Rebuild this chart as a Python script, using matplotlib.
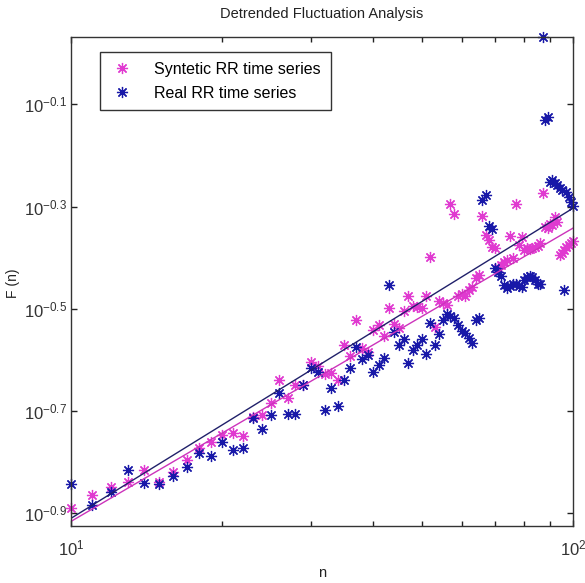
import numpy as np
import matplotlib
matplotlib.use("Agg")
import matplotlib.pyplot as plt
from matplotlib.ticker import FixedLocator, NullLocator, LogLocator, NullFormatter

plt.rcParams['font.family'] = ['Liberation Sans', 'DejaVu Sans']
plt.rcParams['mathtext.fontset'] = 'custom'
plt.rcParams['mathtext.rm'] = 'Liberation Sans'
plt.rcParams['mathtext.default'] = 'regular'

# window sizes
n = np.arange(10, 101)

# F(n), synthetic RR series
F_syn = [0.1288, 0.1368, 0.1416, 0.1449, 0.1531, 0.1449, 0.1517, 0.1600, 0.1691, 0.1734,
         0.1791, 0.1807, 0.1782, 0.1941, 0.1959, 0.2070, 0.2296, 0.2118, 0.2244, 0.2244,
         0.2489, 0.2443, 0.2355, 0.2366, 0.2296, 0.2685, 0.2559, 0.3006, 0.2649, 0.2600,
         0.2877, 0.2938, 0.2799, 0.3177, 0.2951, 0.2897, 0.3133, 0.3350, 0.3199, 0.3191,
         0.3177, 0.3350, 0.3990, 0.2911, 0.3273, 0.3243, 0.3213, 0.5070, 0.4842, 0.3350,
         0.3380, 0.3350, 0.3443, 0.3491, 0.3631, 0.3681, 0.4809, 0.4406, 0.4315, 0.4178,
         0.4159, 0.3802, 0.3855, 0.3908, 0.3936, 0.4385, 0.3972, 0.5070, 0.4217, 0.4365,
         0.4121, 0.4159, 0.4140, 0.4159, 0.4178, 0.4198, 0.4256, 0.5333, 0.4571, 0.4550,
         0.4634, 0.4613, 0.4786, 0.4677, 0.4027, 0.4064, 0.4121, 0.4178, 0.4217, 0.4256,
         0.4295]

# F(n), real RR series
F_real = [0.1436, 0.1306, 0.1387, 0.1531, 0.1442, 0.1436, 0.1489, 0.1553, 0.1652, 0.1629,
          0.1734, 0.1675, 0.1691, 0.1932, 0.1841, 0.1959, 0.2162, 0.1968, 0.1968, 0.2244,
          0.2421, 0.2377, 0.2004, 0.2213, 0.2042, 0.2296, 0.2421, 0.2661, 0.2523, 0.2570,
          0.2377, 0.2455, 0.2535, 0.3524, 0.2851, 0.2685, 0.2761, 0.2477, 0.2624, 0.2685,
          0.2761, 0.2582, 0.2965, 0.2685, 0.2825, 0.3006, 0.3090, 0.3062, 0.3034, 0.2938,
          0.2864, 0.2838, 0.2773, 0.2710, 0.3006, 0.3034, 0.5164, 0.5284, 0.4592, 0.4529,
          0.3802, 0.3733, 0.3664, 0.3524, 0.3475, 0.3508, 0.3532, 0.3540, 0.3508, 0.3491,
          0.3597, 0.3648, 0.3664, 0.3648, 0.3597, 0.3540, 0.3540, 1.0764, 0.7396, 0.7499,
          0.5598, 0.5649, 0.5572, 0.5521, 0.5445, 0.5395, 0.3443, 0.5346, 0.5236, 0.5117,
          0.5023]

# log-log fits (slope, intercept)
fit_syn = (0.574, -1.490)
fit_real = (0.607, -1.517)

ytick_exp = [-0.9, -0.7, -0.5, -0.3, -0.1]

pink = '#e03ad0'
blue = '#1818a8'

fig = plt.figure(figsize=(5.85, 5.83), dpi=100)
ax = fig.add_axes([71 / 585, 57 / 583, 502 / 585, 489 / 583])

star = (8, 2, 0)
h1, = ax.plot(n, F_syn, linestyle='none', marker=star, markersize=8,
              markeredgewidth=0.9, color=pink, clip_on=False)
h2, = ax.plot(n, F_real, linestyle='none', marker=star, markersize=8,
              markeredgewidth=0.9, color=blue, clip_on=False)

ln = np.log10(n)
ax.plot(n, 10 ** (fit_syn[1] + fit_syn[0] * ln), color='#cc33bb', lw=1.0)
ax.plot(n, 10 ** (fit_real[1] + fit_real[0] * ln), color='#20206a', lw=1.0)

ax.set_xscale('log')
ax.set_yscale('log')
ax.set_xlim(10, 100)
ax.set_ylim(10 ** -0.925, 10 ** 0.032)

ax.yaxis.set_major_locator(FixedLocator([10 ** e for e in ytick_exp]))
ax.yaxis.set_minor_locator(NullLocator())
ax.set_yticklabels([r'$10^{%g}$' % e for e in ytick_exp])
ax.xaxis.set_major_locator(FixedLocator([10, 100]))
ax.set_xticklabels([r'$10^{1}$', r'$10^{2}$'])
ax.xaxis.set_minor_locator(LogLocator(base=10, subs=np.arange(2, 10)))
ax.xaxis.set_minor_formatter(NullFormatter())

ax.tick_params(which='both', direction='in', top=True, right=True,
               width=1.0, colors='#222222', labelcolor='#333333', labelsize=12)
ax.tick_params(which='major', length=4)
ax.tick_params(which='minor', length=3.5)
ax.tick_params(axis='x', pad=9)
ax.tick_params(axis='y', pad=3)
for s in ax.spines.values():
    s.set_color('#333333')
    s.set_linewidth(1.0)

ax.set_title('Detrended Fluctuation Analysis', fontsize=10.5, pad=14, color='#222222')
fig.text(322 / 585, 1 - 573 / 583, 'n', fontsize=10.5, ha='center', va='center',
         color='#222222')
fig.text(13 / 585, 1 - 283 / 583, 'F (n)', fontsize=10, rotation=90, ha='center',
         va='center', color='#222222')

leg = ax.legend([h1, h2], ['Syntetic RR time series', 'Real RR time series'],
                loc='upper left', bbox_to_anchor=(0.058, 0.969), borderaxespad=0,
                fontsize=11.5, numpoints=1, handlelength=1.6, handletextpad=1.2,
                labelspacing=0.55, borderpad=0.6, fancybox=False, framealpha=1,
                edgecolor='#333333')
leg.get_frame().set_linewidth(1.0)

fig.savefig('out.png', dpi=100)
